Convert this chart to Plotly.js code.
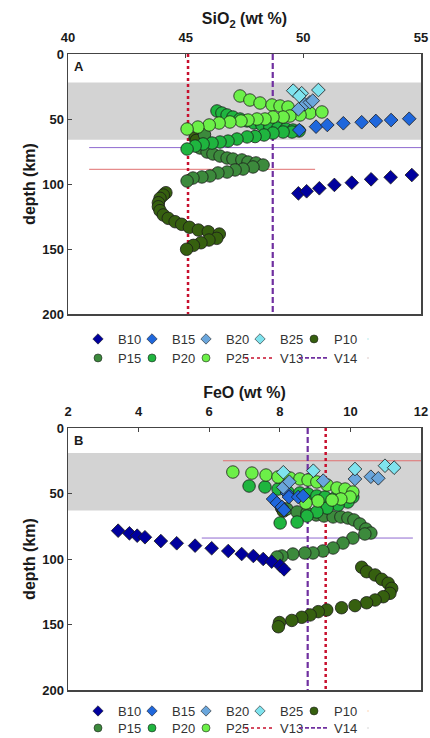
<!DOCTYPE html>
<html><head><meta charset="utf-8">
<script src="https://cdn.plot.ly/plotly-3.0.1.min.js"></script>
<style>html,body{margin:0;padding:0;background:#fff}#chart{width:430px;height:738px}</style>
</head><body><div id="chart"></div>
<script>
// ---------- axes / ticks ----------
const sio2Ticks = [40, 45, 50, 55];
const feoTicks = [2, 4, 6, 8, 10, 12];
const depthTicks = [0, 50, 100, 150, 200];
const row1Names = ['B10','B15','B20','B25','P10'];
const row2Names = ['P15','P20','P25','V13','V14'];

// ---------- Panel A : SiO2 (wt %) vs depth (km) ----------
const A_B10_x = [49.79, 50.14, 50.68, 51.32, 52.06, 52.88, 53.71, 54.61];
const A_B10_d = [107.2, 105.6, 103.3, 100.7, 99.0, 96.4, 94.8, 93.1];
const A_B15_x = [49.83, 50.54, 51.02, 51.70, 52.48, 53.08, 53.73, 54.50];
const A_B15_d = [58.5, 55.9, 54.6, 53.3, 52.5, 51.5, 50.8, 49.8];
const A_B20_x = [50.07, 50.28, 50.40, 49.79];
const A_B20_d = [38.7, 37.2, 35.9, 42.5];
const A_B25_x = [49.57, 49.93, 50.64, 49.83];
const A_B25_d = [28.2, 30.2, 27.7, 32.3];
const A_P10_x = [45.40, 45.45, 44.16, 44.05, 43.91, 43.84, 43.84, 43.91, 44.05, 44.26, 44.55, 44.83, 45.16, 45.54, 45.96, 46.43, 46.32, 45.99, 45.65, 45.33, 45.04];
const A_P10_d = [64.6, 66.5, 106.7, 108.5, 111.0, 114.4, 117.5, 120.5, 123.8, 126.4, 129.0, 131.0, 133.3, 135.4, 136.7, 138.5, 141.8, 143.1, 145.2, 147.2, 150.2];
const A_P15_x = [45.80, 45.61, 45.91, 46.16, 46.46, 46.76, 47.01, 47.39, 47.65, 47.99, 48.29, 47.86, 47.44, 47.10, 46.76, 46.37, 46.03, 45.69, 45.31, 45.06];
const A_P15_d = [62.0, 72.3, 75.4, 76.9, 78.5, 80.0, 80.8, 81.5, 83.1, 83.8, 85.4, 86.9, 88.5, 89.2, 90.8, 91.5, 93.8, 94.6, 95.4, 97.7];
const A_P20_x = [46.33, 46.54, 46.76, 47.01, 47.31, 47.61, 47.90, 48.24, 48.58, 48.92, 49.26, 49.56, 49.82, 49.52, 49.14, 48.71, 48.33, 47.95, 47.61, 47.18, 46.80, 46.46, 46.12, 45.74, 45.40, 45.06];
const A_P20_d = [43.8, 45.4, 46.9, 48.5, 50.0, 51.5, 53.1, 54.6, 56.2, 56.9, 57.7, 58.5, 59.2, 60.0, 60.0, 60.8, 62.3, 63.5, 63.8, 65.4, 67.0, 67.7, 68.5, 69.2, 70.8, 73.1];
const A_P25_x = [47.31, 47.73, 48.16, 48.67, 49.01, 49.35, 49.86, 50.28, 50.79, 49.86, 49.43, 49.14, 48.71, 48.37, 48.03, 47.65, 47.35, 46.88, 46.42, 46.00, 45.52, 45.06];
const A_P25_d = [32.3, 35.4, 37.7, 39.2, 40.0, 40.8, 44.6, 45.4, 44.6, 46.9, 47.7, 48.5, 48.5, 50.0, 50.0, 50.8, 51.5, 52.3, 53.1, 54.6, 56.2, 57.7];
const A_V13 = 45.1, A_V14 = 48.7;
const A_band = [22, 66];
const A_redLine_x = [40.9, 50.5], A_redLine_d = 88.7;
const A_purpleLine_x = [40.9, 55], A_purpleLine_d = 72;

// ---------- Panel B : FeO (wt %) vs depth (km) ----------
const B_B10_x = [3.42, 3.74, 3.96, 4.18, 4.63, 5.08, 5.60, 6.07, 6.54, 6.92, 7.25, 7.53, 7.77, 8.01, 8.12];
const B_B10_d = [78.4, 80.4, 82.2, 83.4, 86.3, 88.0, 89.8, 91.8, 93.9, 96.2, 97.7, 100.0, 102.0, 105.1, 107.9];
const B_B15_x = [7.81, 7.92, 8.06, 8.12, 8.20, 8.26, 8.52, 8.66];
const B_B15_d = [54.2, 57.3, 60.3, 62.6, 49.6, 52.7, 52.7, 51.9];
const B_B20_x = [8.10, 8.27, 9.23, 10.13, 10.58, 10.79];
const B_B20_d = [45.3, 41.0, 40.2, 38.9, 37.2, 38.4];
const B_B25_x = [8.10, 8.95, 10.13, 10.98, 11.24];
const B_B25_d = [33.8, 32.6, 31.3, 28.8, 30.3];
const B_P10_x = [8.05, 8.10, 10.32, 10.46, 10.70, 10.89, 11.07, 11.17, 11.12, 10.93, 10.70, 10.46, 10.13, 9.75, 9.33, 9.09, 8.86, 8.62, 8.34, 7.99, 7.96];
const B_P10_d = [61.0, 63.5, 106.3, 109.7, 112.2, 115.5, 118.5, 122.4, 126.2, 128.8, 131.3, 133.4, 135.6, 137.2, 138.9, 140.2, 142.7, 144.5, 146.9, 148.5, 151.7];
const B_P15_x = [8.20, 8.49, 8.77, 9.03, 9.25, 9.51, 9.73, 9.93, 10.10, 10.27, 10.44, 10.58, 10.41, 10.07, 9.79, 9.51, 9.22, 8.94, 8.71, 8.37, 8.06, 7.92];
const B_P15_d = [61.8, 64.1, 64.9, 66.4, 67.2, 67.9, 67.9, 68.7, 70.2, 73.3, 77.1, 80.2, 80.9, 84.0, 87.8, 91.6, 93.9, 95.4, 95.4, 96.2, 97.7, 98.5];
const B_P20_x = [7.13, 7.58, 7.95, 8.23, 8.57, 8.80, 9.05, 9.28, 9.56, 9.85, 10.07, 9.93, 9.65, 9.34, 9.05, 8.77, 8.49, 8.01];
const B_P20_d = [44.3, 45.0, 46.6, 48.9, 49.6, 50.4, 51.9, 52.7, 53.4, 53.4, 52.7, 56.5, 58.8, 61.1, 64.1, 67.2, 71.8, 72.5];
const B_P25_x = [6.67, 7.21, 7.61, 7.95, 8.29, 8.57, 8.80, 9.05, 9.34, 9.62, 9.85, 10.07, 9.99, 9.73, 9.48, 9.08, 8.74];
const B_P25_d = [33.6, 34.4, 35.9, 37.4, 38.2, 38.9, 39.7, 41.2, 43.5, 45.8, 46.6, 48.9, 52.7, 54.2, 55.0, 55.7, 57.3];
const B_V13 = 9.30, B_V14 = 8.79;
const B_band = [19, 63];
const B_redLine_x = [6.39, 12], B_redLine_d = 25;
const B_purpleLine_x = [5.79, 11.77], B_purpleLine_d = 84;

// ---------- styles ----------
const FONT = 'Arial, "Liberation Sans", sans-serif';
const colors = {
  B10: '#00009e', B15: '#1f67dc', B20: '#6aa6dc', B25: '#7fe3ee',
  P10: '#36600f', P15: '#3c8a3c', P20: '#1fb53f', P25: '#6cf048',
  V13: '#c8102e', V14: '#7030a0'
};
const symbols = {B10:'diamond',B15:'diamond',B20:'diamond',B25:'diamond',P10:'circle',P15:'circle',P20:'circle',P25:'circle'};
const W = 430, H = 738;
const px = (a, b) => [a / W, b / W];
const py = (top, bottom) => [1 - bottom / H, 1 - top / H];

function pts(name, x, d, xa, ya) {
  const dia = symbols[name] === 'diamond';
  return {
    type: 'scatter', mode: 'markers', name: name, x: x, y: d,
    xaxis: xa, yaxis: ya, showlegend: false,
    marker: {
      symbol: symbols[name], size: dia ? 10.5 : 12.5,
      color: colors[name], line: {color: '#1a1a1a', width: 0.8}
    },
    hoverinfo: 'x+y'
  };
}
function vline(name, xv, xa, ya) {
  return {
    type: 'scatter', mode: 'lines', name: name, x: [xv, xv], y: [0, 200],
    xaxis: xa, yaxis: ya, showlegend: false,
    line: name === 'V13' ? {color: colors.V13, dash: 'dot', width: 2.5}
                         : {color: colors.V14, dash: '6px,3px', width: 2.2}
  };
}
function hline(xs, dv, color, xa, ya) {
  return {
    type: 'scatter', mode: 'lines', x: xs, y: [dv, dv], xaxis: xa, yaxis: ya,
    showlegend: false, hoverinfo: 'skip', line: {color: color, width: 1}
  };
}
// legend-only entries (no data), one set for each panel
function legendEntry(name, lg, xa, ya) {
  const base = {type: 'scatter', name: name, x: [null], y: [null], xaxis: xa, yaxis: ya,
                legend: lg, showlegend: true, hoverinfo: 'skip'};
  if (name === 'V13') return Object.assign(base, {mode: 'lines', line: {color: colors.V13, dash: 'dot', width: 1.6}});
  if (name === 'V14') return Object.assign(base, {mode: 'lines', line: {color: colors.V14, dash: '4px,2px', width: 1.8}});
  if (name === ' ') return Object.assign(base, {mode: 'markers', marker: {size: 1, opacity: 0}});
  return Object.assign(base, {mode: 'markers',
    marker: {symbol: symbols[name], size: 8,
             color: colors[name], line: {color: '#222', width: 0.6}}});
}

const traces = [
  // panel A
  hline(A_redLine_x, A_redLine_d, '#e07070', 'x', 'y'),
  hline(A_purpleLine_x, A_purpleLine_d, '#8f6ad0', 'x', 'y'),
  vline('V13', A_V13, 'x', 'y'),
  vline('V14', A_V14, 'x', 'y'),
  pts('P10', A_P10_x, A_P10_d, 'x', 'y'),
  pts('P15', A_P15_x, A_P15_d, 'x', 'y'),
  pts('P20', A_P20_x, A_P20_d, 'x', 'y'),
  pts('P25', A_P25_x, A_P25_d, 'x', 'y'),
  pts('B10', A_B10_x, A_B10_d, 'x', 'y'),
  pts('B15', A_B15_x, A_B15_d, 'x', 'y'),
  pts('B20', A_B20_x, A_B20_d, 'x', 'y'),
  pts('B25', A_B25_x, A_B25_d, 'x', 'y'),
  // panel B
  hline(B_redLine_x, B_redLine_d, '#e07070', 'x2', 'y2'),
  hline(B_purpleLine_x, B_purpleLine_d, '#8f6ad0', 'x2', 'y2'),
  vline('V13', B_V13, 'x2', 'y2'),
  vline('V14', B_V14, 'x2', 'y2'),
  pts('P10', B_P10_x, B_P10_d, 'x2', 'y2'),
  pts('P15', B_P15_x, B_P15_d, 'x2', 'y2'),
  pts('P20', B_P20_x, B_P20_d, 'x2', 'y2'),
  pts('P25', B_P25_x, B_P25_d, 'x2', 'y2'),
  pts('B10', B_B10_x, B_B10_d, 'x2', 'y2'),
  pts('B15', B_B15_x, B_B15_d, 'x2', 'y2'),
  pts('B20', B_B20_x, B_B20_d, 'x2', 'y2'),
  pts('B25', B_B25_x, B_B25_d, 'x2', 'y2')
];
row1Names.concat([' ']).forEach(n => traces.push(legendEntry(n, 'legend', 'x', 'y')));
row2Names.concat([' ']).forEach(n => traces.push(legendEntry(n, 'legend2', 'x', 'y')));
row1Names.concat([' ']).forEach(n => traces.push(legendEntry(n, 'legend3', 'x2', 'y2')));
row2Names.concat([' ']).forEach(n => traces.push(legendEntry(n, 'legend4', 'x2', 'y2')));

const tickFont = {family: FONT, size: 13, color: '#1a1a1a', weight: 'bold'};
const titleFont = {family: FONT, size: 16, color: '#1a1a1a', weight: 'bold'};
function xAxis(dom, anchor, range, ticks, title) {
  return {
    domain: dom, anchor: anchor, side: 'top', range: range, tickvals: ticks,
    ticks: 'inside', ticklen: 4, tickcolor: '#444', tickwidth: 1,
    showline: true, mirror: true, linecolor: '#444', linewidth: 1.5,
    showgrid: false, zeroline: false, tickfont: tickFont, ticklabelstandoff: 5,
    title: {text: title, font: titleFont, standoff: 1}, fixedrange: true
  };
}
function yAxis(dom, anchor) {
  return {
    domain: dom, anchor: anchor, range: [200, 0], tickvals: depthTicks,
    ticks: 'inside', ticklen: 4, tickcolor: '#444', tickwidth: 1,
    showline: true, mirror: true, linecolor: '#444', linewidth: 1.5,
    showgrid: false, zeroline: false, tickfont: tickFont, ticklabelstandoff: 0,
    title: {text: 'depth (km)', font: titleFont, standoff: 2}, fixedrange: true
  };
}
function legendAt(xpx, ypx) {
  return {
    orientation: 'h', x: xpx / W, y: 1 - ypx / H, xanchor: 'left', yanchor: 'middle',
    entrywidth: 9, entrywidthmode: 'pixels', itemwidth: 30, tracegroupgap: 0,
    bgcolor: 'rgba(0,0,0,0)', borderwidth: 0,
    font: {family: FONT, size: 13, color: '#333'}
  };
}

const layout = {
  width: W, height: H, margin: {l: 0, r: 0, t: 0, b: 0, autoexpand: false},
  paper_bgcolor: '#fff', plot_bgcolor: '#fff', showlegend: true,
  xaxis: xAxis(px(68, 421), 'y', [40, 55], sio2Ticks, 'SiO<sub>2</sub> (wt %)'),
  yaxis: yAxis(py(54, 314), 'x'),
  xaxis2: xAxis(px(68, 421), 'y2', [2, 12], feoTicks, 'FeO (wt %)'),
  yaxis2: yAxis(py(428, 690), 'x2'),
  legend: legendAt(78, 339),
  legend2: legendAt(78, 358),
  legend3: legendAt(78, 711),
  legend4: legendAt(78, 728),
  shapes: [
    {type: 'rect', xref: 'x domain', yref: 'y', x0: 0, x1: 1, y0: A_band[0], y1: A_band[1],
     fillcolor: '#d3d3d3', line: {width: 0}, layer: 'below'},
    {type: 'rect', xref: 'x2 domain', yref: 'y2', x0: 0, x1: 1, y0: B_band[0], y1: B_band[1],
     fillcolor: '#d3d3d3', line: {width: 0}, layer: 'below'}
  ],
  annotations: [
    {text: '<b>A</b>', xref: 'x domain', yref: 'y domain', x: 0.012, y: 0.99, xanchor: 'left', yanchor: 'top',
     showarrow: false, font: {family: FONT, size: 13, color: '#1a1a1a'}},
    {text: '<b>B</b>', xref: 'x2 domain', yref: 'y2 domain', x: 0.012, y: 0.99, xanchor: 'left', yanchor: 'top',
     showarrow: false, font: {family: FONT, size: 13, color: '#1a1a1a'}}
  ]
};

Plotly.newPlot('chart', traces, layout, {staticPlot: true, displayModeBar: false});
</script></body></html>
